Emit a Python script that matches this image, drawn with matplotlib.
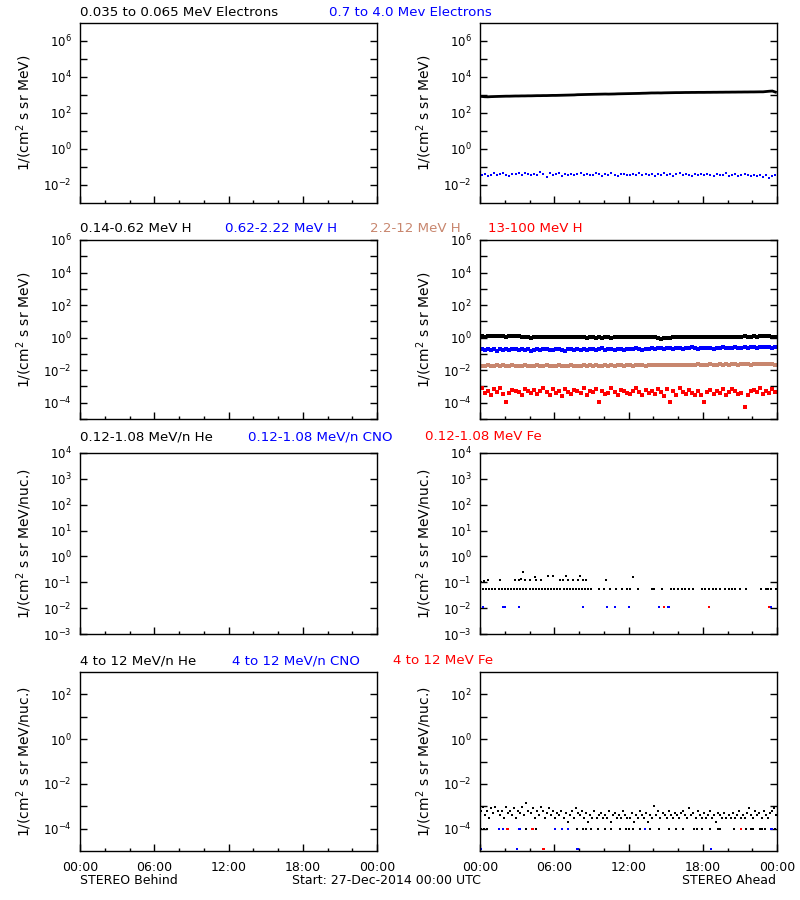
import numpy as np
import matplotlib
matplotlib.use('Agg')
import matplotlib.pyplot as plt
from matplotlib.ticker import FixedLocator, FuncFormatter, NullFormatter

plt.rcParams['font.family'] = ['DejaVu Sans']
plt.rcParams['mathtext.default'] = 'regular'

# ---------------- data (STEREO Ahead, 27-Dec-2014) ----------------
# Row 1: electrons, 15-min samples
e_low = [830, 800, 790, 810, 820, 830, 840, 850, 860, 860, 870, 880,
         880, 890, 890, 900, 900, 910, 920, 920, 930, 930, 940, 950,
         950, 960, 970, 980, 990, 1000, 1010, 1040, 1050, 1060, 1070, 1080,
         1090, 1100, 1110, 1120, 1130, 1120, 1130, 1140, 1160, 1170, 1180, 1190,
         1200, 1210, 1220, 1230, 1250, 1260, 1280, 1300, 1300, 1310, 1300, 1320,
         1330, 1340, 1350, 1360, 1360, 1370, 1380, 1380, 1390, 1390, 1400, 1400,
         1400, 1410, 1410, 1420, 1420, 1430, 1430, 1440, 1440, 1450, 1450, 1460,
         1460, 1470, 1470, 1480, 1480, 1490, 1500, 1500, 1560, 1620, 1660, 1450]
e_high = [0.036, 0.041, 0.033, 0.038, 0.044, 0.035, 0.040, 0.046, 0.037, 0.031, 0.042, 0.039,
          0.045, 0.036, 0.048, 0.040, 0.034, 0.043, 0.038, 0.050, 0.041, 0.029, 0.044, 0.037,
          0.039, 0.046, 0.033, 0.041, 0.037, 0.043, 0.035, 0.040, 0.047, 0.036, 0.042, 0.038,
          0.034, 0.044, 0.039, 0.031, 0.041, 0.036, 0.045, 0.038, 0.033, 0.040, 0.043, 0.037,
          0.035, 0.041, 0.038, 0.046, 0.034, 0.039, 0.036, 0.043, 0.030, 0.040, 0.037, 0.044,
          0.036, 0.042, 0.033, 0.039, 0.045, 0.035, 0.041, 0.038, 0.032, 0.040, 0.036, 0.043,
          0.034, 0.039, 0.037, 0.031, 0.041, 0.035, 0.038, 0.044, 0.033, 0.037, 0.040, 0.032,
          0.036, 0.039, 0.034, 0.030, 0.037, 0.033, 0.038, 0.029, 0.035, 0.024, 0.033, 0.038]

# Row 2: protons, 15-min samples
h1 = [1.20, 1.15, 1.25, 1.18, 1.22, 1.28, 1.20, 1.24, 1.17, 1.26, 1.21, 1.19,
      1.23, 1.16, 1.10, 1.05, 0.98, 1.02, 1.08, 1.04, 1.12, 1.06, 1.10, 1.03,
      1.08, 1.13, 1.05, 1.10, 1.02, 1.07, 1.11, 1.04, 1.09, 1.06, 1.01, 1.05,
      1.03, 0.99, 1.04, 1.00, 1.06, 1.02, 0.98, 1.03, 1.07, 1.05, 1.10, 1.04,
      1.06, 1.02, 1.08, 1.05, 1.12, 1.06, 1.09, 1.14, 1.07, 0.92, 0.88, 0.95,
      0.93, 0.98, 1.02, 1.06, 1.03, 1.08, 1.05, 1.10, 1.07, 1.12, 1.06, 1.09,
      1.11, 1.07, 1.13, 1.09, 1.15, 1.10, 1.08, 1.14, 1.12, 1.17, 1.11, 1.15,
      1.13, 1.18, 1.12, 1.16, 1.20, 1.14, 1.22, 1.30, 1.18, 1.24, 1.15, 1.12]
h2 = [0.19, 0.17, 0.20, 0.18, 0.21, 0.16, 0.19, 0.18, 0.20, 0.17, 0.19, 0.21,
      0.18, 0.20, 0.17, 0.19, 0.16, 0.18, 0.20, 0.17, 0.19, 0.21, 0.18, 0.17,
      0.19, 0.20, 0.18, 0.16, 0.19, 0.21, 0.18, 0.20, 0.17, 0.19, 0.18, 0.20,
      0.19, 0.17, 0.20, 0.22, 0.18, 0.19, 0.21, 0.18, 0.20, 0.19, 0.17, 0.20,
      0.21, 0.19, 0.22, 0.20, 0.18, 0.21, 0.20, 0.23, 0.21, 0.22, 0.24, 0.21,
      0.23, 0.22, 0.20, 0.23, 0.24, 0.21, 0.23, 0.22, 0.25, 0.23, 0.21, 0.24,
      0.22, 0.24, 0.23, 0.21, 0.24, 0.22, 0.25, 0.23, 0.24, 0.22, 0.25, 0.24,
      0.23, 0.26, 0.24, 0.27, 0.25, 0.23, 0.26, 0.25, 0.28, 0.26, 0.24, 0.25]
h3 = [0.019, 0.018, 0.020, 0.019, 0.018, 0.020, 0.019, 0.021, 0.019, 0.018, 0.020, 0.019,
      0.018, 0.019, 0.020, 0.019, 0.018, 0.019, 0.020, 0.018, 0.019, 0.020, 0.019, 0.018,
      0.019, 0.020, 0.019, 0.018, 0.019, 0.020, 0.019, 0.019, 0.018, 0.020, 0.019, 0.020,
      0.019, 0.020, 0.019, 0.018, 0.020, 0.019, 0.020, 0.019, 0.020, 0.021, 0.019, 0.020,
      0.020, 0.019, 0.020, 0.021, 0.020, 0.019, 0.021, 0.020, 0.022, 0.021, 0.020, 0.021,
      0.022, 0.021, 0.020, 0.022, 0.021, 0.022, 0.021, 0.022, 0.021, 0.022, 0.023, 0.022,
      0.021, 0.022, 0.023, 0.022, 0.021, 0.023, 0.022, 0.023, 0.022, 0.024, 0.023, 0.022,
      0.023, 0.024, 0.023, 0.022, 0.024, 0.023, 0.024, 0.023, 0.024, 0.023, 0.024, 0.022]
h4 = [7.5e-4, 4.0e-4, 5.5e-4, 3.0e-4, 6.5e-4, 4.5e-4, 8.0e-4, 3.5e-4, 1.1e-4, 4.0e-4, 6.0e-4, 5.0e-4,
      4.5e-4, 3.0e-4, 7.0e-4, 5.0e-4, 4.0e-4, 6.0e-4, 3.5e-4, 5.5e-4, 8.5e-4, 4.5e-4, 3.0e-4, 6.5e-4,
      4.0e-4, 5.0e-4, 2.5e-4, 7.0e-4, 4.5e-4, 3.5e-4, 6.0e-4, 5.0e-4, 4.0e-4, 8.0e-4, 3.0e-4, 5.5e-4,
      4.5e-4, 6.5e-4, 1.1e-4, 5.0e-4, 3.5e-4, 4.0e-4, 7.5e-4, 4.5e-4, 3.0e-4, 6.0e-4, 5.0e-4, 4.0e-4,
      3.5e-4, 5.5e-4, 8.0e-4, 4.5e-4, 3.0e-4, 6.0e-4, 4.0e-4, 5.0e-4, 3.5e-4, 7.0e-4, 4.5e-4, 2.5e-4,
      6.5e-4, 1.1e-4, 5.5e-4, 3.0e-4, 7.5e-4, 4.5e-4, 3.5e-4, 6.0e-4, 4.0e-4, 3.0e-4, 5.0e-4, 3.0e-4,
      1.1e-4, 4.5e-4, 6.0e-4, 3.5e-4, 5.0e-4, 4.0e-4, 7.0e-4, 3.0e-4, 4.5e-4, 6.5e-4, 5.5e-4, 3.5e-4,
      4.0e-4, 5.6e-5, 3.0e-4, 5.0e-4, 6.0e-4, 4.5e-4, 7.5e-4, 3.5e-4, 5.5e-4, 4.0e-4, 6.5e-4, 4.5e-4]

# Row 3: 0.12-1.08 MeV/n heavy ions (hours, flux)
he_lo_t = [0.0, 0.25, 0.5, 0.75, 1.0, 1.25, 1.5, 1.75, 2.0, 2.25, 2.5, 2.75,
           3.0, 3.25, 3.5, 3.75, 4.0, 4.25, 4.5, 4.75, 5.0, 5.25, 5.5, 5.75,
           6.0, 6.25, 6.5, 6.75, 7.0, 7.25, 7.5, 7.75, 8.0, 8.25, 8.5, 8.75,
           9.0, 9.6, 10.0, 10.5, 11.0, 11.5, 11.9, 12.1, 12.75, 13.9, 14.1, 14.7,
           15.4, 15.7, 16.0, 16.3, 16.6, 16.9, 17.2, 17.9, 18.2, 18.5, 18.8, 19.1,
           19.4, 19.8, 20.1, 20.4, 20.6, 21.0, 21.5, 22.7, 23.1, 23.3, 23.5, 23.9,
           0.1, 0.3, 0.65, 1.59, 2.86, 3.13, 3.34, 3.48, 3.61, 4.02, 4.42, 4.56,
           4.96, 5.5, 5.9, 6.45, 6.71, 6.98, 7.12, 7.52, 7.93, 8.06, 8.33, 8.6,
           10.2, 12.35]
he_lo_v = [0.056] * 72 + [
           0.10, 0.11, 0.12, 0.12, 0.12, 0.12, 0.13, 0.24, 0.12, 0.12, 0.16, 0.12,
           0.12, 0.17, 0.17, 0.12, 0.12, 0.17, 0.12, 0.12, 0.12, 0.17, 0.12, 0.12,
           0.12, 0.16]
cno_lo_t = [0.24, 1.86, 1.95, 2.05, 3.15, 8.3, 10.3, 10.9, 12.0, 14.5, 15.2, 15.3, 23.45, 23.55]
cno_lo_v = [0.011] * 14
fe_lo_t = [14.9, 18.5, 23.35]
fe_lo_v = [0.011, 0.011, 0.011]

# Row 4: 4-12 MeV/n heavy ions; He in 10-min samples (units of 1e-4)
he_hi_e4 = [6, 9, 4, 6, 3, 8, 5, 9, 6, 4, 6, 3,
            9, 5, 6, 4, 8, 3, 6, 5, 9, 4, 14, 6,
            5, 8, 3, 6, 4, 9, 6, 3, 5, 8, 4, 6,
            3, 5, 4, 6, 3, 5, 2, 4, 6, 3, 8, 5,
            4, 6, 3, 5, 2, 4, 3, 6, 3, 4, 5, 3,
            4, 3, 6, 2, 4, 5, 3, 4, 3, 6, 4, 3,
            3, 5, 2, 4, 3, 6, 4, 3, 5, 2, 4, 3,
            10, 4, 6, 3, 5, 4, 3, 6, 4, 3, 5, 4,
            3, 5, 6, 4, 3, 8, 4, 5, 3, 6, 4, 3,
            5, 3, 4, 6, 3, 4, 2, 5, 4, 3, 5, 3,
            4, 3, 5, 3, 4, 6, 3, 4, 3, 5, 8, 4,
            3, 6, 4, 5, 3, 6, 4, 3, 5, 6, 8, 4]
he_hi_base_t = [0.1, 0.35, 0.6, 3.7, 4.5, 7.8, 8.3, 8.6, 9.0, 9.5, 10.1, 10.6,
                11.3, 11.8, 12.0, 12.4, 12.9, 13.7, 14.5, 15.3, 15.8, 16.4, 17.3, 17.5,
                17.95, 18.6, 19.2, 19.4, 20.5, 21.5, 21.9, 22.1, 22.6, 22.8, 23.0, 23.8]
he_hi_base_v = [1.0e-4] * 36
cno_hi_t = [1.5, 1.85, 3.15, 3.25, 6.05, 6.6, 7.15, 13.35, 23.5, 23.6,
            0.05, 3.0, 7.85, 7.95, 18.7]
cno_hi_v = [1.0e-4] * 10 + [1.25e-5] * 5
fe_hi_t = [2.2, 2.3, 4.2, 4.3, 21.1, 5.1, 5.2]
fe_hi_v = [1.0e-4] * 5 + [1.25e-5] * 2

# ---------------- labels ----------------
row_titles = [
    [("0.035 to 0.065 MeV Electrons", 80, "black"), ("0.7 to 4.0 Mev Electrons", 329, "blue")],
    [("0.14-0.62 MeV H", 80, "black"), ("0.62-2.22 MeV H", 225, "blue"),
     ("2.2-12 MeV H", 370, "#c8866e"), ("13-100 MeV H", 488, "red")],
    [("0.12-1.08 MeV/n He", 80, "black"), ("0.12-1.08 MeV/n CNO", 248, "blue"),
     ("0.12-1.08 MeV Fe", 425, "red")],
    [("4 to 12 MeV/n He", 80, "black"), ("4 to 12 MeV/n CNO", 232, "blue"),
     ("4 to 12 MeV Fe", 393, "red")],
]
title_y = [13, 228, 437, 661]
ylabels = ["1/(cm$^2$ s sr MeV)", "1/(cm$^2$ s sr MeV)",
           "1/(cm$^2$ s sr MeV/nuc.)", "1/(cm$^2$ s sr MeV/nuc.)"]
row_ylim = [(1e-3, 1e7), (1e-5, 1e6), (1e-3, 1e4), (1e-5, 1e3)]
row_major = [[-2, 0, 2, 4, 6], [-4, -2, 0, 2, 4, 6], [-3, -2, -1, 0, 1, 2, 3, 4], [-4, -2, 0, 2]]
row_minor = [[-1, 1, 3, 5], [-5, -3, -1, 1, 3, 5], [], [-3, -1, 1]]
xtick_labels = ["00:00", "06:00", "12:00", "18:00", "00:00"]

# ---------------- figure ----------------
W, H = 800, 900
fig = plt.figure(figsize=(8, 9), dpi=100)


def px_axes(x0, y0, x1, y1):
    return fig.add_axes([x0 / W, 1 - y1 / H, (x1 - x0) / W, (y1 - y0) / H])


rows_px = [(23, 203), (240, 419), (453, 634), (672, 851)]
cols_px = [(80, 377), (480, 777)]

sci = FuncFormatter(lambda v, p: "10$^{%d}$" % int(round(np.log10(v))))

axes = {}
for r, (y0, y1) in enumerate(rows_px):
    for c, (x0, x1) in enumerate(cols_px):
        ax = px_axes(x0, y0, x1, y1)
        axes[(r, c)] = ax
        ax.set_yscale('log')
        ax.set_ylim(*row_ylim[r])
        ax.set_xlim(0, 24)
        ax.yaxis.set_major_locator(FixedLocator([10.0 ** k for k in row_major[r]]))
        ax.yaxis.set_minor_locator(FixedLocator([10.0 ** k for k in row_minor[r]]))
        ax.yaxis.set_major_formatter(sci)
        ax.yaxis.set_minor_formatter(NullFormatter())
        ax.xaxis.set_major_locator(FixedLocator([0, 6, 12, 18, 24]))
        ax.xaxis.set_minor_locator(FixedLocator(list(range(0, 25, 2))))
        if r == 3:
            ax.set_xticklabels(xtick_labels)
        else:
            ax.set_xticklabels([])
        ax.tick_params(axis='y', which='both', direction='in', left=True, right=True,
                       length=5, width=1, labelsize=8.5, pad=6)
        ax.tick_params(axis='x', which='major', direction='in', bottom=True, top=False,
                       length=5, width=1, labelsize=9, pad=7)
        ax.tick_params(axis='x', which='minor', direction='in', bottom=True, top=False,
                       length=2.5, width=1)
        for s in ax.spines.values():
            s.set_linewidth(1)
        ax.set_ylabel(ylabels[r], fontsize=10)
        ax.yaxis.set_label_coords(-0.155, 0.5)

t96 = (np.arange(96) + 0.5) * 0.25
t144 = (np.arange(144) + 0.5) / 6.0
ms = 1.8

ax = axes[(0, 1)]
ax.plot(t96, e_low, '-', color='black', lw=2.0)
ax.plot(t96, e_high, 's', color='blue', ms=ms, mew=0)

ax = axes[(1, 1)]
ax.plot(t96, h1, 's', color='black', ms=2.2, mew=0)
ax.plot(t96, h2, 's', color='blue', ms=2.2, mew=0)
ax.plot(t96, h3, 's', color='#c8866e', ms=2.2, mew=0)
ax.plot(t96, h4, 's', color='red', ms=2.2, mew=0)

ax = axes[(2, 1)]
ax.plot(he_lo_t, he_lo_v, 's', color='black', ms=ms, mew=0)
ax.plot(cno_lo_t, cno_lo_v, 's', color='blue', ms=ms, mew=0)
ax.plot(fe_lo_t, fe_lo_v, 's', color='red', ms=ms, mew=0)

ax = axes[(3, 1)]
ax.plot(t144, np.array(he_hi_e4) * 1e-4, 's', color='black', ms=ms, mew=0)
ax.plot(he_hi_base_t, he_hi_base_v, 's', color='black', ms=ms, mew=0)
ax.plot(cno_hi_t, cno_hi_v, 's', color='blue', ms=ms, mew=0)
ax.plot(fe_hi_t, fe_hi_v, 's', color='red', ms=ms, mew=0)

for r in range(4):
    for text, x, col in row_titles[r]:
        fig.text(x / W, 1 - title_y[r] / H, text, color=col, fontsize=9.6,
                 ha='left', va='center')

fig.text(80 / W, 1 - 881 / H, "STEREO Behind", fontsize=9, ha='left', va='center')
fig.text(292 / W, 1 - 881 / H, "Start: 27-Dec-2014 00:00 UTC", fontsize=9,
         ha='left', va='center')
fig.text(776 / W, 1 - 881 / H, "STEREO Ahead", fontsize=9, ha='right', va='center')

fig.savefig('out.png', dpi=100, facecolor='white')
